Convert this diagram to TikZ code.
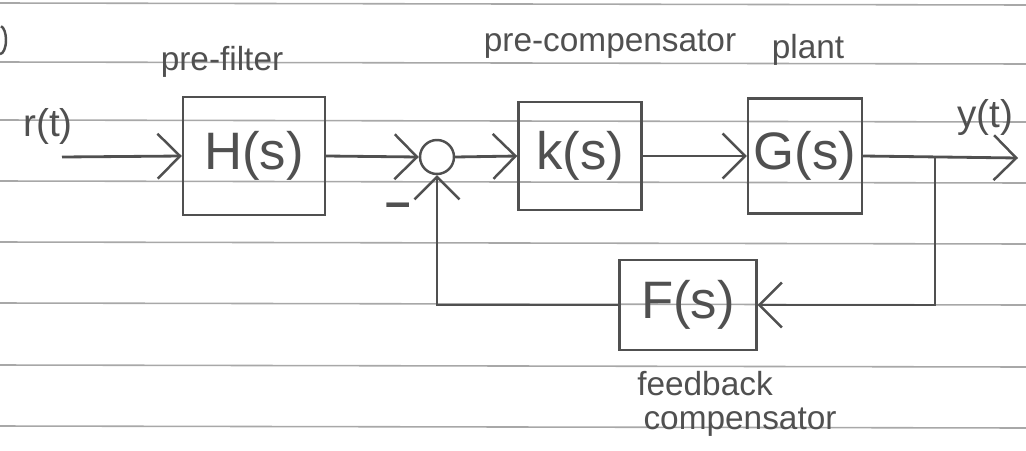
\documentclass[tikz,border=0pt]{standalone}
\usepackage{fontspec}
\setmainfont{Liberation Sans}
\usetikzlibrary{arrows.meta,calc}
\definecolor{ink}{HTML}{505050}
\definecolor{rule}{HTML}{A8A8A8}
\tikzset{
  blk/.style={draw=ink, line width=1.4pt, minimum width=#1, inner sep=0pt},
  big/.style={text=ink, font=\fontsize{30}{34}\selectfont},
  note/.style={text=ink, font=\fontsize{19}{22}\selectfont},
  sig/.style={draw=ink, line width=1.6pt, -{Straight Barb[length=4.5mm,width=9mm,line width=1.4pt]}},
  wire/.style={draw=ink, line width=1.6pt},
  paper/.style={draw=rule, line width=0.9pt}
}
\begin{document}
\begin{tikzpicture}[x=0.02cm, y=-0.02cm]
  % sheet and ruling
  \fill[white] (0,0) rectangle (1026,450);
  \useasboundingbox (0,0) rectangle (1026,450);
  \foreach \yy in {3,62,120,181,242,303,365,426}
    \draw[paper] (0,\yy) -- (1026,\yy+2);
  \draw[ink, line width=1.4pt] (0,54) arc[start angle=90, end angle=-80, x radius=6, y radius=14];

  % blocks
  \node[blk=2.84cm, minimum height=2.36cm, big] (H) at (254,156) {H(s)};
  \node[draw=ink, line width=1.4pt, circle, minimum size=0.68cm, inner sep=0pt] (S) at (437,157) {};
  \node[blk=2.46cm, minimum height=2.16cm, big] (K) at (580,156) {k(s)};
  \node[blk=2.28cm, minimum height=2.3cm, big] (G) at (805,156) {G(s)};
  \node[blk=2.74cm, minimum height=1.8cm, big] (F) at (688,305) {F(s)};

  % labels
  \node[note] (lpf) at (222,62) {pre-filter};
  \node[note] (lpc) at (610,44) {pre-compensator};
  \node[note] (lpl) at (808,50) {plant};
  \node[note] (lfb) at (705,384) {feedback};
  \node[note] (lfc) at (740,422) {compensator};
  \node[note, font=\fontsize{22}{26}\selectfont] (lr) at (48,126) {r(t)};
  \node[note, font=\fontsize{22}{26}\selectfont] (ly) at (985,118) {y(t)};
  \node[text=ink, font=\fontsize{26}{30}\selectfont\bfseries] (minus) at (398,210) {–};

  % signal path
  \coordinate (rin) at (62,157);
  \coordinate (yout) at (1018,158);
  \coordinate (br) at (935,158);
  \draw[sig] (rin) -- (H.west);
  \draw[sig] (H.east) -- (S.west);
  \draw[sig] (S.east) -- (K.west);
  \draw[sig] (K.east) -- (G.west);
  \draw[sig] (G.east) -- (yout);
  \draw[sig] (br) |- (F.east);
  \draw[sig] (F.west) -| (S.south);
\end{tikzpicture}
\end{document}
